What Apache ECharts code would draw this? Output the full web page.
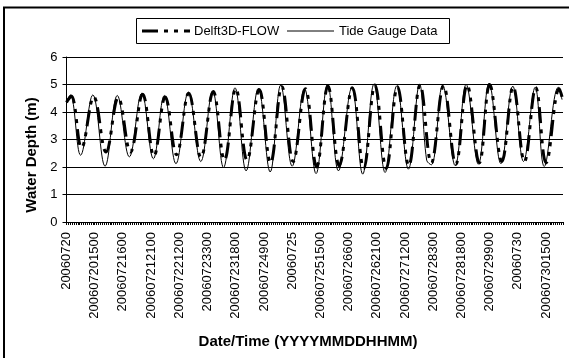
<!DOCTYPE html>
<html>
<head>
<meta charset="utf-8">
<script src="https://cdn.jsdelivr.net/npm/echarts@6/dist/echarts.min.js"></script>
<style>
html,body{margin:0;padding:0;background:#fff}
#chart{width:569px;height:358px}
</style>
</head>
<body>
<div id="chart"></div>
<script>
// x labels, one every 15 hours from 2006-07-20 00:00
var tickLabels = ['20060720','200607201500','20060721600','200607212100','200607221200','20060723300',
	'200607231800','20060724900','20060725','200607251500','20060726600','200607262100',
	'200607271200','20060728300','200607281800','20060729900','20060730','200607301500'];

var seriesNames = ['Delft3D-FLOW', 'Tide Gauge Data'];

// tide gauge: hours since start / water depth (m)
var gaugeHour = [0, 2, 7.5, 14, 20.5, 27, 33.4, 40, 46.2, 52, 58.2, 64.8, 71.4, 77.7, 83.5, 89.6, 95.5,
	102, 108.3, 113.9, 120, 126.5, 132.7, 138.8, 144.6, 151.7, 157.5, 163.5, 169.4, 175.6, 181.8,
	187.7, 191.5, 194, 200, 206.7, 212.5, 219, 224.7, 231, 237.3, 243, 249.2, 254, 261.5, 263.5];
var gaugeDepth = [4.40, 4.62, 2.43, 4.62, 2.03, 4.60, 2.37, 4.68, 2.30, 4.60, 2.12, 4.72, 2.20, 4.76, 1.98, 4.88, 1.86,
	4.86, 1.82, 4.98, 2.03, 4.86, 1.76, 5.01, 1.86, 4.88, 1.74, 5.02, 1.80, 4.95, 1.92,
	5.01, 2.25, 2.08, 4.98, 2.05, 5.00, 2.10, 5.05, 2.12, 4.94, 2.20, 4.90, 2.02, 4.90, 4.45];

// Delft3D-FLOW model
var modelHour = [0, 2.5, 8, 14.5, 21, 27.5, 34, 40.5, 46.5, 52.5, 58.5, 65, 71.5, 78, 84, 90, 96,
	102.5, 108.5, 114.5, 120.5, 127, 133, 139, 145, 152, 158, 164, 170, 176, 182,
	188, 194, 200.5, 207, 213, 219.5, 225, 231.5, 237.5, 243.5, 249.5, 255, 262, 263.5];
var modelDepth = [4.35, 4.58, 2.70, 4.55, 2.55, 4.52, 2.55, 4.65, 2.40, 4.55, 2.45, 4.68, 2.35, 4.75, 2.25, 4.85, 2.25,
	4.82, 2.15, 4.92, 2.20, 4.85, 2.00, 4.95, 2.05, 4.88, 1.95, 4.98, 1.95, 4.92, 2.05,
	4.98, 2.15, 4.95, 2.10, 4.98, 2.15, 5.00, 2.20, 4.92, 2.20, 4.88, 2.15, 4.85, 4.55];

var FONT = '"Liberation Sans", Arial, sans-serif';
var MODEL_DASH = [16, 6, 4, 6, 4, 6];

var gauge = gaugeHour.map(function (h, i) { return [h, gaugeDepth[i]]; });
var model = modelHour.map(function (h, i) { return [h, modelDepth[i]]; });

var myChart = echarts.init(document.getElementById('chart'));

// legend is drawn by hand so the dash pattern shows without symbols
var legendGraphic = [
	{
		type: 'rect', silent: true,
		shape: { x: 136.5, y: 18.5, width: 313, height: 25 },
		style: { fill: '#fff', stroke: '#000', lineWidth: 1 }
	},
	{
		type: 'line', silent: true,
		shape: { x1: 142, y1: 31, x2: 190, y2: 31 },
		style: { stroke: '#000', lineWidth: 3, lineDash: MODEL_DASH }
	},
	{
		type: 'text', x: 194, y: 31,
		style: { text: seriesNames[0], font: '13px ' + FONT, fill: '#000',
			align: 'left', verticalAlign: 'middle', textAlign: 'left', textVerticalAlign: 'middle' }
	},
	{
		type: 'line', silent: true,
		shape: { x1: 287, y1: 31, x2: 334, y2: 31 },
		style: { stroke: '#000', lineWidth: 1 }
	},
	{
		type: 'text', x: 339, y: 31,
		style: { text: seriesNames[1], font: '13px ' + FONT, fill: '#000',
			align: 'left', verticalAlign: 'middle', textAlign: 'left', textVerticalAlign: 'middle' }
	}
];

var option = {
	animation: false,
	backgroundColor: '#fff',
	grid: { left: 66.5, right: 6, top: 57, bottom: 136 },
	xAxis: {
		type: 'value',
		min: 0,
		max: 264,
		interval: 15,
		axisLine: { lineStyle: { color: '#000', width: 1 } },
		axisTick: { length: 3, lineStyle: { color: '#000' } },
		minorTick: { show: true, splitNumber: 15, length: 3, lineStyle: { color: '#000' } },
		splitLine: { show: false },
		axisLabel: {
			rotate: 90,
			margin: 10,
			color: '#000',
			fontSize: 13,
			fontFamily: FONT,
			showMaxLabel: false,
			formatter: function (v) {
				var i = v / 15;
				return (i === Math.round(i) && tickLabels[i]) ? tickLabels[i] : '';
			}
		}
	},
	yAxis: {
		type: 'value',
		min: 0,
		max: 6,
		interval: 1,
		axisLine: { show: true, lineStyle: { color: '#000', width: 1 } },
		axisTick: { show: true, length: 4, lineStyle: { color: '#000' } },
		splitLine: { lineStyle: { color: '#000', width: 1 } },
		axisLabel: { color: '#000', fontSize: 13, fontFamily: FONT, margin: 9 }
	},
	graphic: [
		{
			type: 'rect', silent: true, z: -10,
			shape: { x: 4, y: 7.5, width: 620, height: 420 },
			style: { fill: 'none', stroke: '#000', lineWidth: 2 }
		},
		{
			type: 'text', x: 308, y: 342,
			style: { text: 'Date/Time (YYYYMMDDHHMM)', font: 'bold 15px ' + FONT, fill: '#000',
				align: 'center', verticalAlign: 'middle', textAlign: 'center', textVerticalAlign: 'middle' }
		},
		{
			type: 'text', x: 32, y: 155, rotation: Math.PI / 2,
			style: { text: 'Water Depth (m)', font: 'bold 15px ' + FONT, fill: '#000',
				align: 'center', verticalAlign: 'middle', textAlign: 'center', textVerticalAlign: 'middle' }
		}
	].concat(legendGraphic),
	series: [
		{
			name: seriesNames[0],
			type: 'line',
			symbol: 'none',
			smooth: 0.4,
			z: 3,
			lineStyle: { color: '#000', width: 3, type: MODEL_DASH },
			data: model
		},
		{
			name: seriesNames[1],
			type: 'line',
			symbol: 'none',
			smooth: 0.4,
			z: 2,
			lineStyle: { color: '#000', width: 1 },
			data: gauge
		}
	]
};

myChart.setOption(option);
</script>
</body>
</html>
